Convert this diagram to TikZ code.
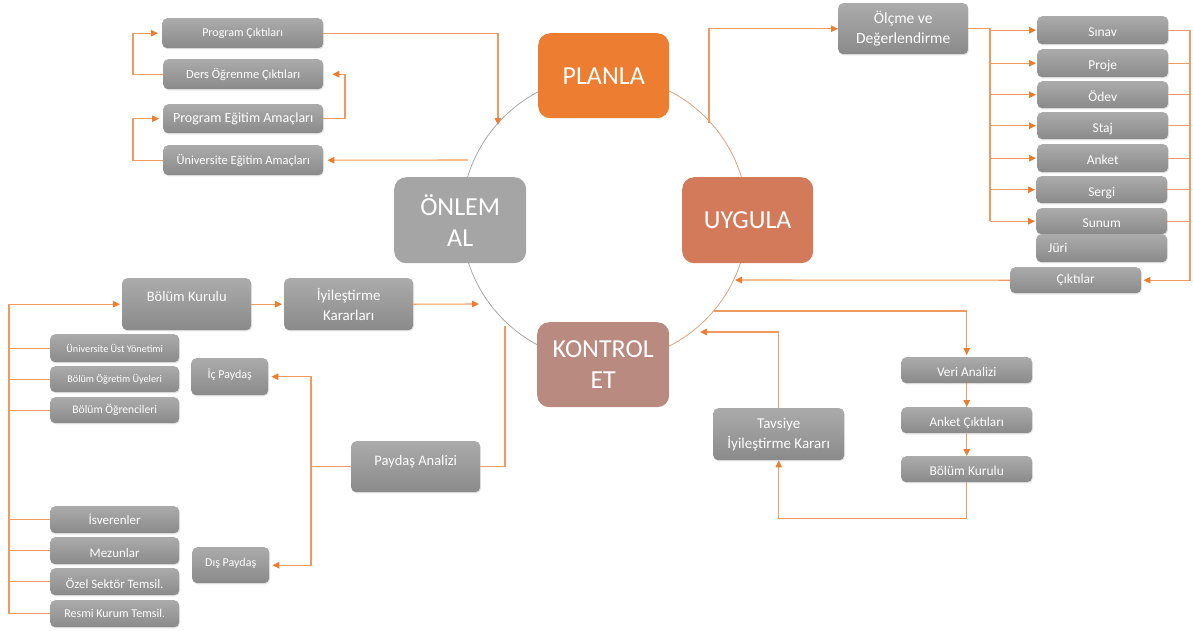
\documentclass[tikz,border=0pt]{standalone}
\usepackage{fontspec}
\setmainfont{Carlito}
\usetikzlibrary{arrows.meta,shadows,calc}
\definecolor{orA}{HTML}{ED7D31}
\definecolor{lnC}{HTML}{EE9A60}
\definecolor{uyC}{HTML}{D27A5A}
\definecolor{krC}{HTML}{B88A80}
\definecolor{onC}{HTML}{A5A5A5}
\definecolor{gTop}{HTML}{ABABAB}
\definecolor{gBot}{HTML}{8A8A8A}
\definecolor{cirG}{HTML}{A8A8A8}
\definecolor{cirO}{HTML}{D9A47F}
\newcommand\fsz[2]{\fontsize{#1}{#2}\selectfont}
% #1 style, #2 name, #3 x1, #4 y1, #5 x2, #6 y2, #7 text
\newcommand\mybox[7]{\node[#1, anchor=north west, minimum width={#5-#3}, minimum height={#6-#4}] (#2) at (#3,#4) {#7};}
\tikzset{
 gbox/.style={rectangle, rounded corners=5pt, top color=gTop, bottom color=gBot, draw=none, text=white, inner sep=0pt, align=center, font=\fsz{12}{14},
   drop shadow={opacity=0.2, shadow xshift=0.8pt, shadow yshift=-1.2pt}},
 bigbox/.style={rectangle, rounded corners=12pt, draw=none, text=white, inner sep=0pt, align=center, font=\fsz{26}{31}},
 lowtext/.style={text height=16pt, text depth=3pt},
 conn/.style={draw=lnC, line width=1.1pt},
 arr/.style={conn, -{Triangle[length=7pt,width=6.5pt,color=orA]}},
}
\begin{document}
\begin{tikzpicture}[x=1pt,y=-1pt]
\useasboundingbox (0,0) rectangle (1193,630);
\fill[white] (0,0) rectangle (1193,630);
% cycle circle
\coordinate (cc) at (604.5,218.5);
\begin{scope}\clip (0,0) rectangle (604.5,630); \draw[cirG, line width=0.8pt] (cc) circle[radius=143pt]; \end{scope}
\begin{scope}\clip (604.5,0) rectangle (1193,630); \draw[cirO, line width=0.8pt] (cc) circle[radius=143pt]; \end{scope}
% big boxes
\mybox{bigbox, fill=orA}{planla}{538}{33}{669}{118}{PLANLA}
\mybox{bigbox, fill=uyC}{uygula}{682}{177}{813}{263}{UYGULA}
\mybox{bigbox, fill=onC}{onlem}{394}{177}{526}{263}{ÖNLEM\\AL}
\mybox{bigbox, fill=krC}{kontrol}{537}{322}{669}{407}{KONTROL\\ET}
% top-left
\mybox{gbox, font=\fsz{12}{14}}{pc}{162}{18}{323}{48}{Program Çıktıları}
\mybox{gbox, font=\fsz{12.5}{14}}{doc}{163}{59}{323}{89}{Ders Öğrenme Çıktıları}
\mybox{gbox, font=\fsz{14}{16}}{pea}{163}{104}{323}{133}{Program Eğitim Amaçları}
\mybox{gbox, font=\fsz{12.5}{14}}{uea}{163}{145}{323}{175}{Üniversite Eğitim Amaçları}
% top-right
\mybox{gbox, font=\fsz{15.5}{20}}{olcme}{838}{3}{968}{54}{Ölçme ve\\Değerlendirme}
\mybox{gbox, lowtext, font=\fsz{13.5}{15}}{sinav}{1037}{16}{1168}{44}{Sınav}
\mybox{gbox, lowtext, font=\fsz{13.5}{15}}{proje}{1037}{49}{1168}{77}{Proje}
\mybox{gbox, lowtext, font=\fsz{13.5}{15}}{odev}{1037}{81}{1168}{108}{Ödev}
\mybox{gbox, lowtext, font=\fsz{13.5}{15}}{staj}{1037}{112}{1168}{139}{Staj}
\mybox{gbox, lowtext, font=\fsz{13.5}{15}}{anket}{1037}{144}{1168}{172}{Anket}
\mybox{gbox, lowtext, font=\fsz{13.5}{15}}{sergi}{1036}{176}{1167}{203}{Sergi}
\mybox{gbox, lowtext, font=\fsz{13.5}{15}}{sunum}{1036}{208}{1167}{234}{Sunum}
\node[gbox, font=\fsz{13.5}{15}, anchor=north west, text width=107pt, inner xsep=12pt, align=left, minimum height=28pt] (juri) at (1036,234) {Jüri};
\mybox{gbox, font=\fsz{13.5}{15}}{ciktilar}{1010}{267}{1141}{293}{Çıktılar}
% bottom-left
\mybox{gbox, text height=10pt, text depth=15pt, font=\fsz{14.5}{20}}{bk1}{122}{278}{251}{330}{Bölüm Kurulu}
\mybox{gbox, font=\fsz{15}{20}}{ik}{284}{278}{413}{330}{İyileştirme\\Kararları}
\mybox{gbox, font=\fsz{10.2}{12}}{uuy}{50}{334}{179}{362}{Üniversite Üst Yönetimi}
\mybox{gbox, font=\fsz{10.2}{12}}{bou}{50}{366}{179}{392}{Bölüm Öğretim Üyeleri}
\mybox{gbox, font=\fsz{11.6}{13}}{bog}{50}{397}{179}{423}{Bölüm Öğrencileri}
\mybox{gbox, font=\fsz{13}{15}}{isv}{50}{506}{179}{533}{İsverenler}
\mybox{gbox, lowtext, font=\fsz{13}{15}}{mez}{50}{537}{179}{564}{Mezunlar}
\mybox{gbox, lowtext, font=\fsz{12.8}{15}}{ozel}{50}{568}{179}{595}{Özel Sektör Temsil.}
\mybox{gbox, font=\fsz{12}{14}}{resmi}{50}{600}{179}{627}{Resmi Kurum Temsil.}
\mybox{gbox, text height=11pt, text depth=7.4pt, font=\fsz{12}{14}}{icp}{191}{358}{268}{395}{İç Paydaş}
\mybox{gbox, text height=8.5pt, text depth=6.5pt, font=\fsz{12}{14}}{disp}{192}{547}{269}{583}{Dış Paydaş}
\mybox{gbox, text height=10.5pt, text depth=13.5pt, font=\fsz{14.5}{20}}{pa}{351}{441}{480}{492}{Paydaş Analizi}
% bottom-right
\mybox{gbox, lowtext, font=\fsz{13.2}{15}}{veri}{901}{357}{1032}{383}{Veri Analizi}
\mybox{gbox, lowtext, font=\fsz{13.2}{15}}{ankc}{901}{407}{1032}{433}{Anket Çıktıları}
\mybox{gbox, lowtext, font=\fsz{13.5}{15}}{bk2}{901}{456}{1032}{482}{Bölüm Kurulu}
\mybox{gbox, font=\fsz{15}{20}}{tav}{713}{408}{844}{460}{Tavsiye\\İyileştirme Kararı}
% connector end points on the cycle and buses
\coordinate (cPC) at (498,125);
\coordinate (cUEA) at (468,160);
\coordinate (cUY) at (709,123);
\coordinate (cCIK) at (735,280);
\coordinate (cIK) at (479,304);
\coordinate (cPA) at (505,326);
\coordinate (cK1) at (714,311);
\coordinate (cK2) at (700,332);
\coordinate (busL) at (990,0);
\coordinate (busR) at (1190,0);
\coordinate (busLL) at (9,0);
\coordinate (busP) at (311,0);
\coordinate (busTL) at (133,0);
\coordinate (busTR) at (345,0);
% top-left connectors
\draw[arr] (pc.east) -| (cPC);
\draw[arr] (pea.east) -- (pea.east-|busTR) |- ([xshift=9pt]doc.east);
\draw[arr] (doc.west) -- (doc.west-|busTL) |- ([xshift=-4pt]pc.west);
\draw[arr] (uea.west) -- (uea.west-|busTL) |- ([xshift=-4pt]pea.west);
\draw[arr] (cUEA) -- ([xshift=4pt]uea.east);
% top-right connectors
\draw[arr] (cUY) |- (olcme.west);
\draw[conn] (olcme.east) -- (olcme.east-|busL) -- (sunum.west-|busL);
\foreach \n in {sinav,proje,odev,staj,anket,sergi,sunum}
  \draw[arr] (\n.west-|busL) -- ([xshift=-1pt]\n.west);
\foreach \n in {sinav,proje,odev,staj,anket,sergi,sunum}
  \draw[conn] (\n.east) -- (\n.east-|busR);
\draw[arr] (sinav.east-|busR) -- (ciktilar.east-|busR) -- ([xshift=2pt]ciktilar.east);
\draw[arr] (ciktilar.west) -- (cCIK);
% bottom-left connectors
\draw[arr] (bk1.east) -- ([xshift=-2pt]ik.west);
\draw[arr] (ik.east) -- (cIK);
\draw[arr] (resmi.west-|busLL) -- (bk1.west-|busLL) -- ([xshift=-2pt]bk1.west);
\foreach \n in {uuy,bou,bog,isv,mez,ozel,resmi}
  \draw[conn] (\n.west-|busLL) -- (\n.west);
\draw[conn] (pa.west) -- (pa.west-|busP);
\draw[arr] (icp.east-|busP) -- (disp.east-|busP) -- ([xshift=3pt]disp.east);
\draw[arr] (disp.east-|busP) -- (icp.east-|busP) -- ([xshift=3pt]icp.east);
\draw[conn] (pa.east) -| (cPA);
% bottom-right connectors
\draw[arr] (cK1) -| ([yshift=2pt]veri.north);
\draw[arr] (veri.south) -- (ankc.north);
\draw[arr] (ankc.south) -- (bk2.north);
\draw[arr] (bk2.south) -- ++(0,36) -| (tav.south);
\draw[arr] (tav.north) |- (cK2);
\end{tikzpicture}
\end{document}
